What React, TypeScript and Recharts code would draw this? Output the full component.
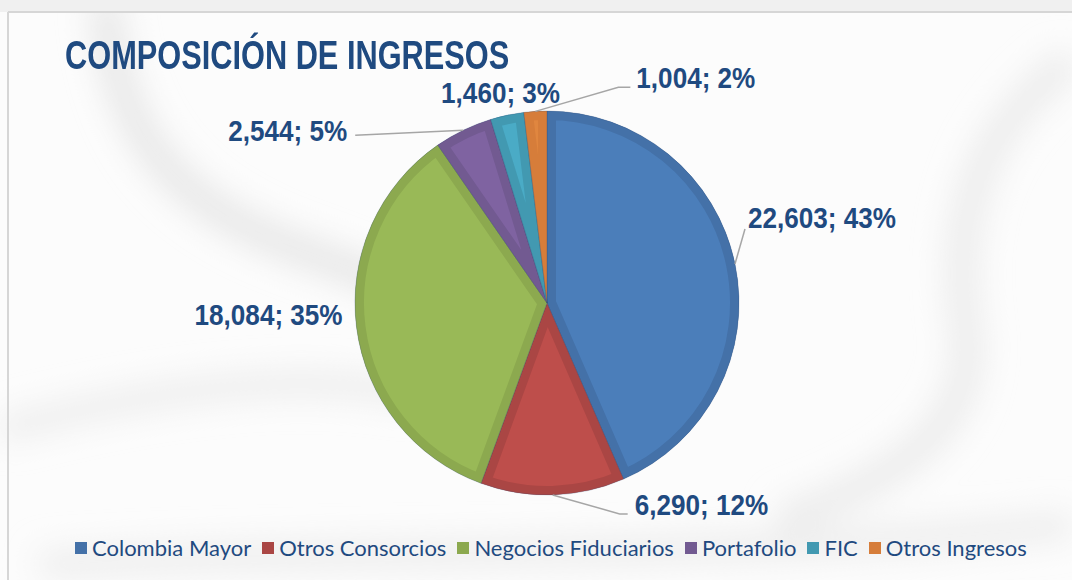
import { Legend, Pie, PieChart, Sector } from "recharts";

const categories = ["Colombia Mayor", "Otros Consorcios", "Negocios Fiduciarios", "Portafolio", "FIC", "Otros Ingresos"];
const values = [22603, 6290, 18084, 2544, 1460, 1004];

const fills = ["#4b7eba", "#be4e4b", "#99b957", "#7f63a1", "#4aabc6", "#e0863f"];
const borders = ["#4471a8", "#aa4644", "#8ca94f", "#725a91", "#4299b1", "#d67d3a"];

// label placement relative to the slice edge point: [line end], [elbow], [text]
const labelLayout = [
  { line: [10, -35], elbow: [0, 0], text: [13, -46], anchor: "start" },
  { line: [67, 19], elbow: [8, 0], text: [82, 10], anchor: "start" },
  { line: null, elbow: null, text: [-14, -13], anchor: "end" },
  { line: [-108, 5], elbow: [0, 0], text: [-116, 1], anchor: "end" },
  { line: null, elbow: null, text: [53, -22], anchor: "end" },
  { line: [83, -24], elbow: [12, 0], text: [101, -33], anchor: "start" },
];

const data = categories.map((name, i) => ({ name, value: values[i], fill: fills[i] }));

const RADIAN = Math.PI / 180;
const TEXT = "#1f4a80";

// darker inner band along each slice edge, clipped to the slice
const Bevel = ({ sector, index }: any) => {
  const id = `bevel-${index}`;
  const geo = {
    cx: sector.cx,
    cy: sector.cy,
    innerRadius: 0,
    outerRadius: sector.outerRadius,
    startAngle: sector.startAngle,
    endAngle: sector.endAngle,
  };
  return (
    <g>
      <defs>
        <clipPath id={id}>
          <Sector {...geo} />
        </clipPath>
      </defs>
      <Sector {...geo} fill="none" stroke={borders[index]} strokeWidth={18} clipPath={`url(#${id})`} />
      <Sector {...geo} fill="none" stroke="#2e4a70" strokeOpacity={0.35} strokeWidth={0.8} />
    </g>
  );
};

const renderLabel = (props: any) => {
  const { cx, cy, midAngle, outerRadius, value, percent, index } = props;
  const lay = labelLayout[index];
  const ex = cx + outerRadius * Math.cos(-midAngle * RADIAN);
  const ey = cy + outerRadius * Math.sin(-midAngle * RADIAN);
  const tx = ex + lay.text[0];
  const ty = ey + lay.text[1];
  let line = null;
  if (lay.line) {
    const lx = ex + lay.line[0];
    const ly = ey + lay.line[1];
    const pts = `${ex},${ey} ${lx},${ly} ${lx + lay.elbow![0]},${ly + lay.elbow![1]}`;
    line = <polyline points={pts} fill="none" stroke="#a6a6a6" strokeWidth={1.5} />;
  }
  return (
    <g key={`lbl-${index}`}>
      <Bevel sector={props} index={index} />
      {line}
      <text
        transform={`translate(${tx},${ty}) scale(0.87,1)`}
        textAnchor={lay.anchor}
        dominantBaseline="central"
        fill={TEXT}
        fontFamily="'Liberation Sans', Arial, sans-serif"
        fontWeight="bold"
        fontSize={30}
      >
        {`${value.toLocaleString("en-US")}; ${Math.round(percent * 100)}%`}
      </text>
    </g>
  );
};

const renderLegend = () => (
  <div style={{ display: "flex", alignItems: "center", paddingLeft: 75, fontFamily: "Lato, 'Open Sans', sans-serif", fontSize: 22, color: TEXT }}>
    {categories.map((c, i) => (
      <div key={c} style={{ display: "flex", alignItems: "center", marginRight: 11 }}>
        <div style={{ width: 12, height: 12, background: borders[i], marginRight: 5 }} />
        <span>{c}</span>
      </div>
    ))}
  </div>
);

const Background = () => (
  <svg width={1072} height={580} style={{ position: "absolute", left: 0, top: 0 }}>
    <defs>
      <filter id="bgblur" x="-20%" y="-20%" width="140%" height="140%">
        <feGaussianBlur stdDeviation="16" />
      </filter>
    </defs>
    <rect width={1072} height={580} fill="#fcfcfc" />
    <g filter="url(#bgblur)" fill="none">
      <path d="M105,0 C115,120 160,200 300,250 C370,275 420,295 470,330" strokeWidth={30} stroke="#e6e6e6" />
      <path d="M0,430 C150,390 300,370 420,395" strokeWidth={24} stroke="#ececec" />
      <path d="M1072,60 C990,120 950,200 965,320 C985,420 900,480 780,520" strokeWidth={30} stroke="#ebebeb" />
      <path d="M40,565 C300,545 700,565 1072,525" strokeWidth={26} stroke="#ececec" />
    </g>
    <rect x={0} y={0} width={1072} height={12} fill="#f0f0f0" />
    <line x1={8} y1={12} x2={1072} y2={12} stroke="#d6d6d6" strokeWidth={2} />
    <line x1={8} y1={12} x2={8} y2={580} stroke="#d6d6d6" strokeWidth={2} />
  </svg>
);

export default function App() {
  return (
    <div style={{ position: "absolute", left: 0, top: 0, width: 1072, height: 580, overflow: "hidden" }}>
      <Background />
      <div
        style={{
          position: "absolute",
          left: 65,
          top: 35,
          fontFamily: "'Liberation Sans', Arial, sans-serif",
          fontWeight: "bold",
          fontSize: 41,
          lineHeight: 1,
          color: TEXT,
          transform: "scale(0.75, 1)",
          transformOrigin: "left top",
          whiteSpace: "nowrap",
        }}
      >
        COMPOSICIÓN DE INGRESOS
      </div>
      <div style={{ position: "absolute", left: 0, top: 0 }}>
        <PieChart width={1072} height={580} margin={{ top: 0, right: 0, bottom: 0, left: 0 }}>
          <Pie
            data={data}
            dataKey="value"
            nameKey="name"
            cx={547}
            cy={303}
            outerRadius={192}
            startAngle={90}
            endAngle={-270}
            stroke="none"
            label={renderLabel}
            labelLine={false}
            isAnimationActive={false}
          />
          <Legend content={renderLegend} wrapperStyle={{ left: 0, top: 534, width: 1072 }} />
        </PieChart>
      </div>
    </div>
  );
}
